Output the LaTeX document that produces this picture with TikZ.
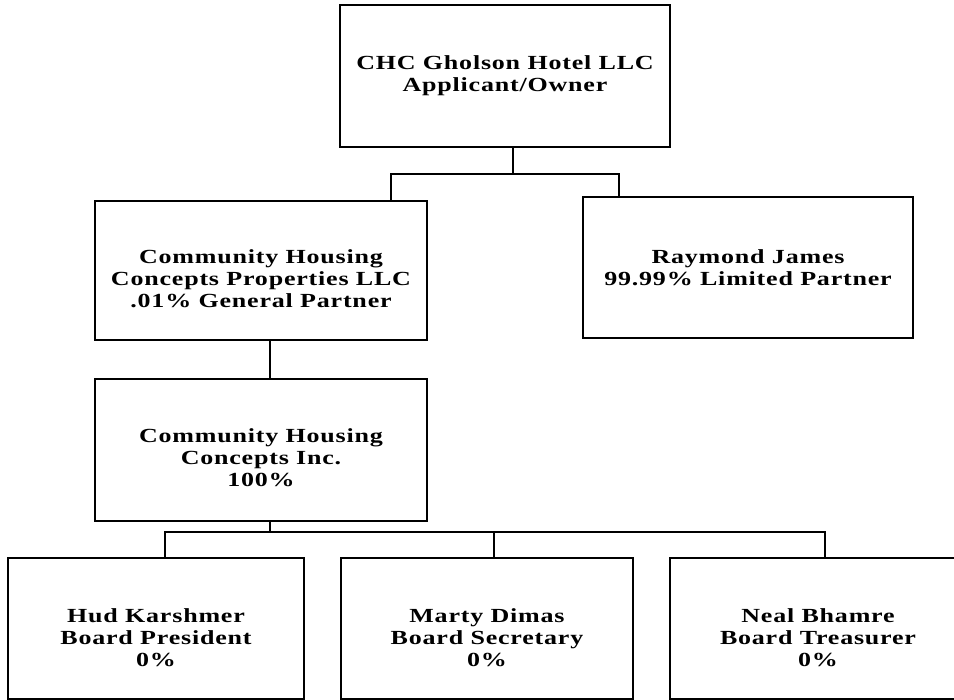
\documentclass[tikz,border=0pt]{standalone}
\usepackage{fontspec}
\setmainfont{Liberation Serif}[FakeStretch=1.3,LetterSpace=4]
\usepackage{tikz}
\usetikzlibrary{positioning}
\tikzset{orgbox/.style={draw,line width=1.8pt,inner sep=0pt},
         orgtext/.style={align=center,inner sep=0pt,font=\fontsize{20}{22}\selectfont\bfseries},
         link/.style={line width=1.8pt}}

\begin{document}
\begin{tikzpicture}[x=1pt,y=-1pt]
            \useasboundingbox (0,0) rectangle (954,700);
            \clip (0,0) rectangle (954,700);
            % top level
            \node [orgbox,minimum width=330,minimum height=142] (owner) at (505,76) {};
            \node [orgtext] at (owner) {CHC Gholson Hotel LLC\\Applicant/Owner};
            % partners
            \node [orgbox,minimum width=332,minimum height=139] (gp) at (261,270.5) {};
            \node [orgtext] at ([yshift=-8pt]gp.center)
                {Community Housing\\Concepts Properties LLC\\.01\% General Partner};
            \node [orgbox,minimum width=330,minimum height=141] (lp) at (748,267.5) {};
            \node [orgtext] at (lp) {Raymond James\\99.99\% Limited Partner};
            \node [orgbox,minimum width=332,minimum height=142] (inc) at (261,450) {};
            \node [orgtext] at ([yshift=-8pt]inc.center) {Community Housing\\Concepts Inc.\\100\%};
            % board
            \node [orgbox,minimum width=296,minimum height=141] (hud) at (156,628.5) {};
            \node [orgtext] at ([yshift=-9pt]hud.center) {Hud Karshmer\\Board President\\0\%};
            \node [orgbox,minimum width=292,minimum height=141] (marty) at (487,628.5) {};
            \node [orgtext] at ([yshift=-9pt]marty.center) {Marty Dimas\\Board Secretary\\0\%};
            \node [orgbox,minimum width=296,minimum height=141] (neal) at (818,628.5) {};
            \node [orgtext] at ([yshift=-9pt]neal.center) {Neal Bhamre\\Board Treasurer\\0\%};
            \coordinate (topbus) at (513,174);
            \coordinate (lowbus) at (270,532);
            \draw [link] ([xshift=8]owner.south) -- (topbus);
            \draw [link] ([xshift=130]gp.north) |- (topbus) -| ([xshift=-129]lp.north);
            \draw [link] ([xshift=9]gp.south) -- ([xshift=9]inc.north);
            \draw [link] ([xshift=9]inc.south) -- (lowbus);
            \draw [link] ([xshift=9]hud.north) |- (lowbus) -| ([xshift=7]neal.north);
            \draw [link] ([xshift=7]marty.north) -- ([xshift=7]marty.north |- lowbus);
        \end{tikzpicture}
\end{document}
